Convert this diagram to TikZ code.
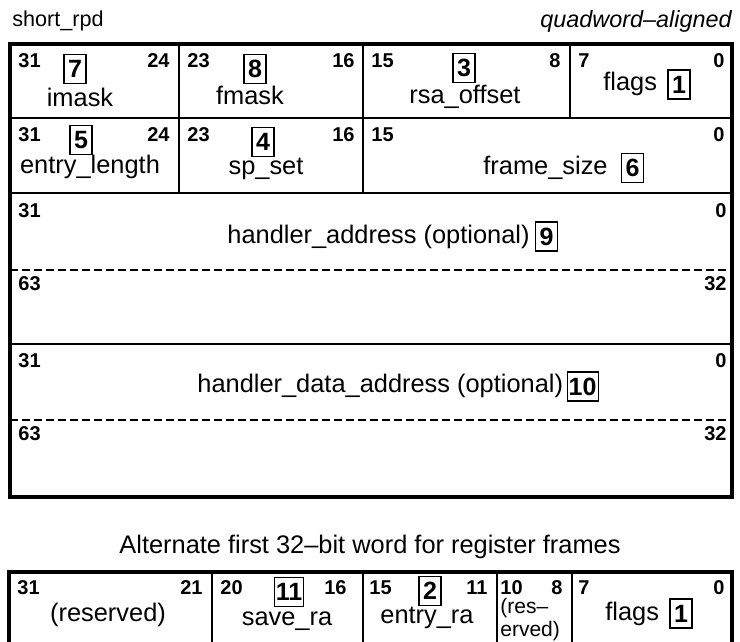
\documentclass[tikz,border=0pt]{standalone}
\usepackage{fontspec}
\setmainfont{Liberation Sans}
\usetikzlibrary{positioning}

\begin{document}
\begin{tikzpicture}[
            x=0.5pt, y=-0.5pt,
            frame/.style={color=black, line width=1.6pt},
            field/.style={color=black, line width=0.6pt},
            split/.style={color=black, line width=0.6pt, dash pattern=on 4pt off 2pt},
            bitnum/.style={inner sep=0pt, font=\fontsize{10}{11}\selectfont\bfseries},
            fieldname/.style={inner sep=0pt, font=\fontsize{12.7}{14}\selectfont},
            refnum/.style={draw, line width=0.6pt, inner xsep=0.8pt, inner ysep=0pt,
                minimum width=11pt, minimum height=14.5pt,
                font=\fontsize{12.5}{13}\selectfont\bfseries}
        ]
            \useasboundingbox (0,0) rectangle (740,642);
            \clip (0,0) rectangle (740,642);

            % titles
            \node[inner sep=0pt, anchor=base west, font=\fontsize{10.8}{12}\selectfont] (name) at (12,27) {short\_rpd};
            \node[inner sep=0pt, anchor=base east, font=\fontsize{11.7}{13}\selectfont\itshape] (align) at (732,28) {quadword–aligned};

            % frame and row lines
            \draw[frame] (10,44) rectangle (732,497);
            \draw[field] (10,118) -- (732,118);
            \draw[field] (10,193) -- (732,193);
            \draw[split] (10,270) -- (732,270);
            \draw[field] (10,344) -- (732,344);
            \draw[split] (10,420) -- (732,420);

            % field borders
            \draw[field] (179,44) -- (179,193);
            \draw[field] (363,44) -- (363,193);
            \draw[field] (570,44) -- (570,118);

            % bit numbers, first row
            \foreach \x/\b in {18/31, 187/23, 371/15, 578/7}{
                \node[bitnum, anchor=west] (hi-\b) at (\x, 61) {\b};
            }
            \foreach \x/\b in {170/24, 355/16, 561/8, 725/0}{
                \node[bitnum, anchor=east] (lo-\b) at (\x, 61) {\b};
            }

            % bit numbers, second row
            \foreach \x/\b in {18/31, 187/23, 371/15}{
                \node[bitnum, anchor=west] (hiB-\b) at (\x, 135) {\b};
            }
            \foreach \x/\b in {170/24, 355/16, 725/0}{
                \node[bitnum, anchor=east] (loB-\b) at (\x, 135) {\b};
            }

            % bit numbers, address quadwords
            \foreach \y/\b/\c/\n in {211/31/0/c, 284/63/32/d, 361/31/0/e, 434/63/32/f}{
                \node[bitnum, anchor=west] (hi\n) at (18, \y) {\b};
                \node[bitnum, anchor=east] (lo\n) at (727, \y) {\c};
            }

            % first row fields
            \node[refnum] (n7) at (75,69) {7};
            \node[fieldname, anchor=base] (imask) at (80,107) {imask};
            \node[refnum] (n8) at (255,69) {8};
            \node[fieldname, anchor=base] (fmask) at (250,105) {fmask};
            \node[refnum] (n3) at (464,68) {3};
            \node[fieldname, anchor=base] (rsa) at (465,104) {rsa\_offset};
            \node[fieldname, anchor=base west] (flags) at (603,91) {flags};
            \node[refnum, right=5pt of flags] (n1) {1};

            % second row fields
            \node[refnum] (n5) at (81,140) {5};
            \node[fieldname, anchor=base] (entry) at (90,174) {entry\_length};
            \node[refnum] (n4) at (263,142) {4};
            \node[fieldname, anchor=base] (spset) at (266,175) {sp\_set};
            \node[fieldname, anchor=base west] (fsize) at (483,175) {frame\_size};
            \node[refnum, right=6.5pt of fsize] (n6) {6};

            % handler addresses
            \node[fieldname, anchor=base west] (handler) at (227,243) {handler\_address (optional)};
            \node[refnum, right=2.5pt of handler] (n9) {9};
            \node[fieldname, anchor=base west] (hdata) at (197,393) {handler\_data\_address (optional)};
            \node[refnum, right=1.5pt of hdata] (n10) {10};

            % alternate word
            \node[fieldname, anchor=base] (alt) at (370,553) {Alternate first 32–bit word for register frames};
            \draw[frame] (9,660) |- (732,572) -- (732,660);
            \foreach \x in {212, 363, 497, 572}{
                \draw[field] (\x,572) -- (\x,660);
            }
            \foreach \x/\b in {17/31, 220/20, 369/15, 500/10, 578/7}{
                \node[bitnum, anchor=west] (hiG-\b) at (\x, 588) {\b};
            }
            \foreach \x/\b in {203/21, 347/16, 488/11, 563/8, 725/0}{
                \node[bitnum, anchor=east] (loG-\b) at (\x, 588) {\b};
            }
            \node[fieldname, anchor=base] (resv) at (108,621) {(reserved)};
            \node[refnum] (n11) at (289,592) {11};
            \node[fieldname, anchor=base] (savera) at (287,625) {save\_ra};
            \node[refnum] (n2) at (430,591) {2};
            \node[fieldname, anchor=base] (entryra) at (427,623) {entry\_ra};
            \node[inner sep=0pt, anchor=north west, align=left, font=\fontsize{10.5}{11.5}\selectfont] (resv2) at (500,598) {(res–\\erved)};
            \node[fieldname, anchor=base west] (flagsG) at (605,620) {flags};
            \node[refnum, right=5pt of flagsG] (n1G) {1};

        \end{tikzpicture}
\end{document}
